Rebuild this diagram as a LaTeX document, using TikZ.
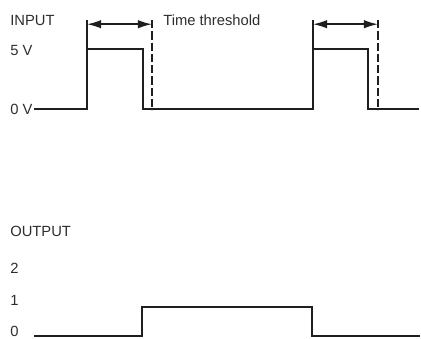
\documentclass[tikz,border=0pt]{standalone}
\usepackage{fontspec}
\setmainfont{Liberation Sans}
\usetikzlibrary{arrows.meta}
\begin{document}
\begin{tikzpicture}[x=0.025cm,y=-0.025cm,line join=miter,font=\fontsize{10.5}{12}\selectfont]
        \definecolor{trace}{rgb}{0.12, 0.12, 0.12}
        \definecolor{label_gray}{rgb}{0.18, 0.18, 0.18}
        \tikzset{signal/.style={trace,line width=1.5pt},
                limit/.style={trace,line width=1pt,dash pattern=on 6pt off 2pt},
                span/.style={trace,line width=1.1pt,{Latex[length=10pt,width=6pt]}-{Latex[length=10pt,width=6pt]}},
                tag/.style={anchor=west,inner sep=0pt,text=label_gray}}
        \useasboundingbox (0,0) rectangle (421,338);
        \path
        (87,20) coordinate (A)
        (152,20) coordinate (B)
        (313,20) coordinate (C)
        (378,20) coordinate (D)
        (152,110) coordinate (B0)
        (378,110) coordinate (D0)
        ;
        % labels
        \node[tag] (input) at (10,20) {INPUT};
        \node[tag] (five) at (10,50) {5 V};
        \node[tag] (zero) at (10,109) {0 V};
        \node[tag] (thr) at (163,20) {Time threshold};
        \node[tag] (output) at (10,231) {OUTPUT};
        \node[tag] (two) at (10,268) {2};
        \node[tag] (one) at (10,300) {1};
        \node[tag] (nil) at (10,331) {0};
        % input pulses
        \draw[signal] (34,109)--(87,109)--(A)
                (87,49)--(143,49)--(143,109)--(313,109)--(C)
                (313,49)--(368,49)--(368,109)--(419,109);
        \draw[limit] (B)--(B0);
        \draw[limit] (D)--(D0);
        \draw[span] ([yshift=-3]A)--([yshift=-3]B);
        \draw[span] ([yshift=-3]C)--([yshift=-3]D);
        % output
        \draw[signal] (34,336)--(142,336)--(142,307)--(312,307)--(312,336)--(420,336);
\end{tikzpicture}
\end{document}
